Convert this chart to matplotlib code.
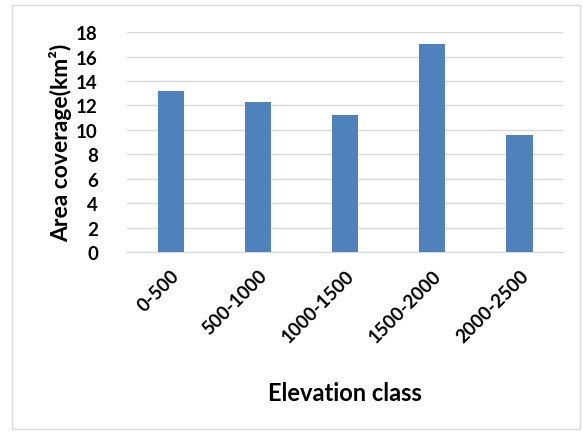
import matplotlib.pyplot as plt
from matplotlib.patches import Rectangle

classes = ["0-500", "500-1000", "1000-1500", "1500-2000", "2000-2500"]
area = [13.2, 12.3, 11.2, 17.0, 9.6]

plt.rcParams['font.family'] = ['Lato', 'DejaVu Sans']

fig = plt.figure(figsize=(5.83, 4.35), dpi=100)
ax = fig.add_axes([0.218, 0.418, 0.748, 0.506])

x = range(len(classes))
ax.bar(x, area, width=0.3, color="#4f81bd", zorder=3)

ax.set_xlim(-0.5, len(classes) - 0.5)
ax.set_ylim(0, 18)
ax.set_yticks(range(0, 19, 2))
ax.set_xticks(list(x))
ax.set_xticklabels(classes, rotation=45, ha="right", rotation_mode="anchor",
                   fontsize=13.5, fontweight="bold")
for lab in ax.get_yticklabels():
    lab.set_fontsize(13.5)
    lab.set_fontweight("bold")

ax.grid(axis="y", color="#d9d9d9", linewidth=1, zorder=0)
for s in ["top", "right", "left"]:
    ax.spines[s].set_visible(False)
ax.spines["bottom"].set_color("#d9d9d9")
ax.tick_params(axis="x", length=0, pad=10)
ax.tick_params(axis="y", length=0, pad=21)

ax.set_ylabel("Area coverage(km²)", fontsize=16.5, fontweight="bold", labelpad=3)
ax.set_xlabel("Elevation class", fontsize=17, fontweight="bold", labelpad=26)

# light frame round the chart
fig.patches.append(Rectangle((0.02, 0.012), 0.975, 0.975, transform=fig.transFigure,
                             fill=False, edgecolor="#d9d9d9", linewidth=1))

fig.savefig("out.png", dpi=100)
